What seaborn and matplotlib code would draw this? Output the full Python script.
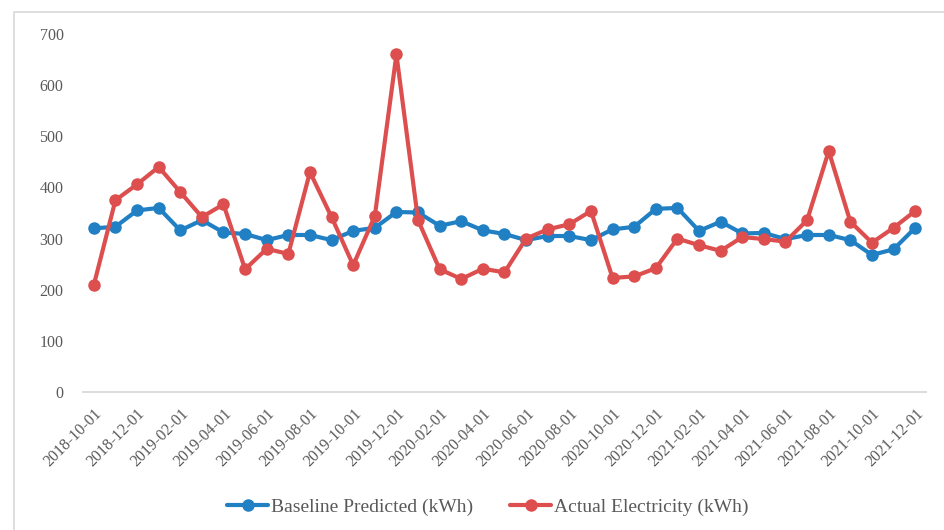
import matplotlib
matplotlib.use("Agg")
import matplotlib.pyplot as plt
from matplotlib.patches import Rectangle
from matplotlib.lines import Line2D
import seaborn as sns
import pandas as pd

months = [f"{y}-{m:02d}-01" for y, m in
          [(2018, 10), (2018, 11), (2018, 12)]
          + [(2019, m) for m in range(1, 13)]
          + [(2020, m) for m in range(1, 13)]
          + [(2021, m) for m in range(1, 13)]]

baseline_kwh = [320, 323, 355, 360, 316, 336, 312, 309, 297, 307,
                307, 297, 315, 321, 352, 351, 325, 334, 316, 309,
                297, 305, 305, 297, 318, 323, 358, 360, 315, 333,
                310, 311, 299, 307, 307, 297, 268, 279, 321]
actual_kwh = [209, 375, 406, 440, 391, 342, 367, 240, 280, 270,
              430, 342, 248, 344, 660, 336, 240, 221, 241, 234,
              300, 318, 328, 354, 223, 226, 242, 300, 287, 276,
              303, 299, 294, 336, 471, 333, 292, 321, 354]

series_names = ["Baseline Predicted (kWh)", "Actual Electricity (kWh)"]
series_colors = ["#2080C3", "#DC4F4E"]
y_ticks = [0, 100, 200, 300, 400, 500, 600, 700]

df = pd.DataFrame({"month": months,
                   series_names[0]: baseline_kwh,
                   series_names[1]: actual_kwh})
long_df = df.melt(id_vars="month", var_name="series", value_name="kWh")

sns.set_theme(style="white")
plt.rcParams["font.family"] = ["Liberation Serif", "DejaVu Serif"]
text_color = "#595959"
axis_color = "#D9D9D9"

fig = plt.figure(figsize=(9.45, 5.30), dpi=100)
ax = fig.add_axes([83 / 945, 1 - 392 / 530, (926 - 83) / 945, (392 - 34) / 530])

sns.lineplot(data=long_df, x="month", y="kWh", hue="series",
             palette=dict(zip(series_names, series_colors)),
             marker="o", markersize=9, markeredgewidth=0,
             linewidth=3.0, legend=False, ax=ax, sort=False)

n = len(months)
ax.set_xlim(-0.5, n - 0.5)
ax.set_ylim(0, 700)
ax.set_yticks(y_ticks)
ax.set_yticklabels([str(v) for v in y_ticks])

label_pos = list(range(0, n, 2))
ax.set_xticks(label_pos)
ax.set_xticklabels([months[i] for i in label_pos], rotation=45,
                   ha="right", rotation_mode="anchor")
ax.set_xticks([i - 0.5 for i in label_pos], minor=True)
ax.tick_params(axis="x", which="major", length=0, pad=10,
               labelsize=11.5, labelcolor=text_color)
ax.tick_params(axis="x", which="minor", length=5, width=1.2,
               color=axis_color, direction="out")
ax.tick_params(axis="y", length=0, pad=14, labelsize=11.5,
               labelcolor=text_color)
ax.set_xlabel("")
ax.set_ylabel("")
ax.grid(False)
for side in ["top", "right", "left"]:
    ax.spines[side].set_visible(False)
ax.spines["bottom"].set_color(axis_color)
ax.spines["bottom"].set_linewidth(1.3)

handles = [Line2D([], [], color=c, linewidth=3.0, marker="o",
                  markersize=9, markeredgewidth=0) for c in series_colors]
fig.legend(handles, series_names, loc="center", ncol=2,
           bbox_to_anchor=(488 / 945, 1 - 507 / 530), frameon=False,
           fontsize=14, labelcolor=text_color, handlelength=2.1,
           handletextpad=0.15, columnspacing=1.9)

fig.add_artist(Rectangle((14 / 945, -0.05), 1.0, 1 - 12 / 530 + 0.05,
                         transform=fig.transFigure, fill=False,
                         edgecolor=axis_color, linewidth=1.2))

fig.savefig("out.png", dpi=100, facecolor="white")
